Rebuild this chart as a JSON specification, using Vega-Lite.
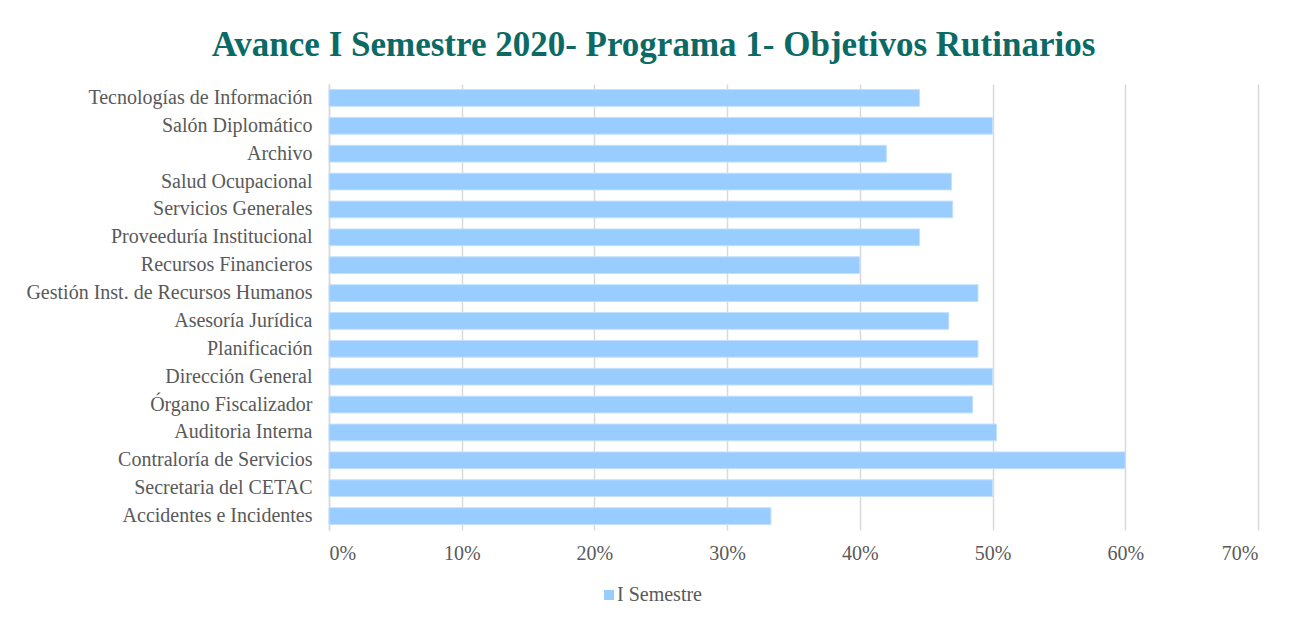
{
  "$schema": "https://vega.github.io/schema/vega-lite/v6.json",
  "autosize": {"type": "none"},
  "padding": {"left": 329, "top": 84, "right": 40, "bottom": 88},
  "width": 929,
  "height": 446,
  "background": "white",
  "title": {
    "text": "Avance I Semestre 2020- Programa 1- Objetivos Rutinarios",
    "font": "Liberation Serif",
    "fontSize": 35,
    "fontWeight": "bold",
    "color": "#0B6A66",
    "anchor": "middle",
    "frame": "group",
    "dx": -140,
    "dy": 33,
    "baseline": "alphabetic",
    "offset": 26
  },
  "data": {
    "values": [
      {"area": "Tecnologías de Información\u2004", "avance": 0.445, "serie": "I Semestre"},
      {"area": "Salón Diplomático", "avance": 0.50, "serie": "I Semestre"},
      {"area": "Archivo", "avance": 0.42, "serie": "I Semestre"},
      {"area": "Salud Ocupacional", "avance": 0.469, "serie": "I Semestre"},
      {"area": "Servicios Generales\u2004", "avance": 0.47, "serie": "I Semestre"},
      {"area": "Proveeduría Institucional", "avance": 0.445, "serie": "I Semestre"},
      {"area": "Recursos Financieros", "avance": 0.40, "serie": "I Semestre"},
      {"area": "Gestión Inst. de Recursos Humanos", "avance": 0.489, "serie": "I Semestre"},
      {"area": "Asesoría Jurídica", "avance": 0.467, "serie": "I Semestre"},
      {"area": "Planificación\u2004", "avance": 0.489, "serie": "I Semestre"},
      {"area": "Dirección General", "avance": 0.50, "serie": "I Semestre"},
      {"area": "Órgano Fiscalizador", "avance": 0.485, "serie": "I Semestre"},
      {"area": "Auditoria Interna", "avance": 0.503, "serie": "I Semestre"},
      {"area": "Contraloría de Servicios\u2004", "avance": 0.60, "serie": "I Semestre"},
      {"area": "Secretaria del CETAC", "avance": 0.50, "serie": "I Semestre"},
      {"area": "Accidentes e Incidentes\u2004", "avance": 0.333, "serie": "I Semestre"}
    ]
  },
  "mark": {"type": "bar", "stroke": "#C4E0FC", "strokeWidth": 1},
  "encoding": {
    "y": {
      "field": "area",
      "type": "nominal",
      "sort": null,
      "scale": {"paddingInner": 0.4, "paddingOuter": 0.2},
      "axis": {
        "title": null,
        "ticks": false,
        "tickSize": 0,
        "labelPadding": 17,
        "labelFont": "Liberation Serif",
        "labelFontSize": 20,
        "labelColor": "#595959",
        "labelLimit": 400,
        "domain": true,
        "domainColor": "#D9D9D9",
        "domainWidth": 1.5,
        "grid": false
      }
    },
    "x": {
      "field": "avance",
      "type": "quantitative",
      "scale": {"domain": [0, 0.7], "nice": false},
      "axis": {
        "title": null,
        "format": "0%",
        "values": [0, 0.1, 0.2, 0.3, 0.4, 0.5, 0.6, 0.7],
        "ticks": false,
        "tickSize": 0,
        "labelPadding": 13,
        "labelFont": "Liberation Serif",
        "labelFontSize": 20,
        "labelColor": "#595959",
        "domain": false,
        "grid": true,
        "gridColor": "#D9D9D9",
        "gridWidth": 1.5
      }
    },
    "color": {
      "field": "serie",
      "type": "nominal",
      "scale": {"range": ["#99CCFF"]},
      "legend": {
        "title": null,
        "orient": "none",
        "legendX": 270,
        "legendY": 501,
        "direction": "horizontal",
        "symbolType": "square",
        "symbolSize": 100,
        "symbolStrokeWidth": 0,
        "labelFont": "Liberation Serif",
        "labelFontSize": 20,
        "labelColor": "#595959",
        "labelOffset": -2,
        "padding": 0
      }
    }
  },
  "config": {
    "view": {"stroke": null}
  }
}
